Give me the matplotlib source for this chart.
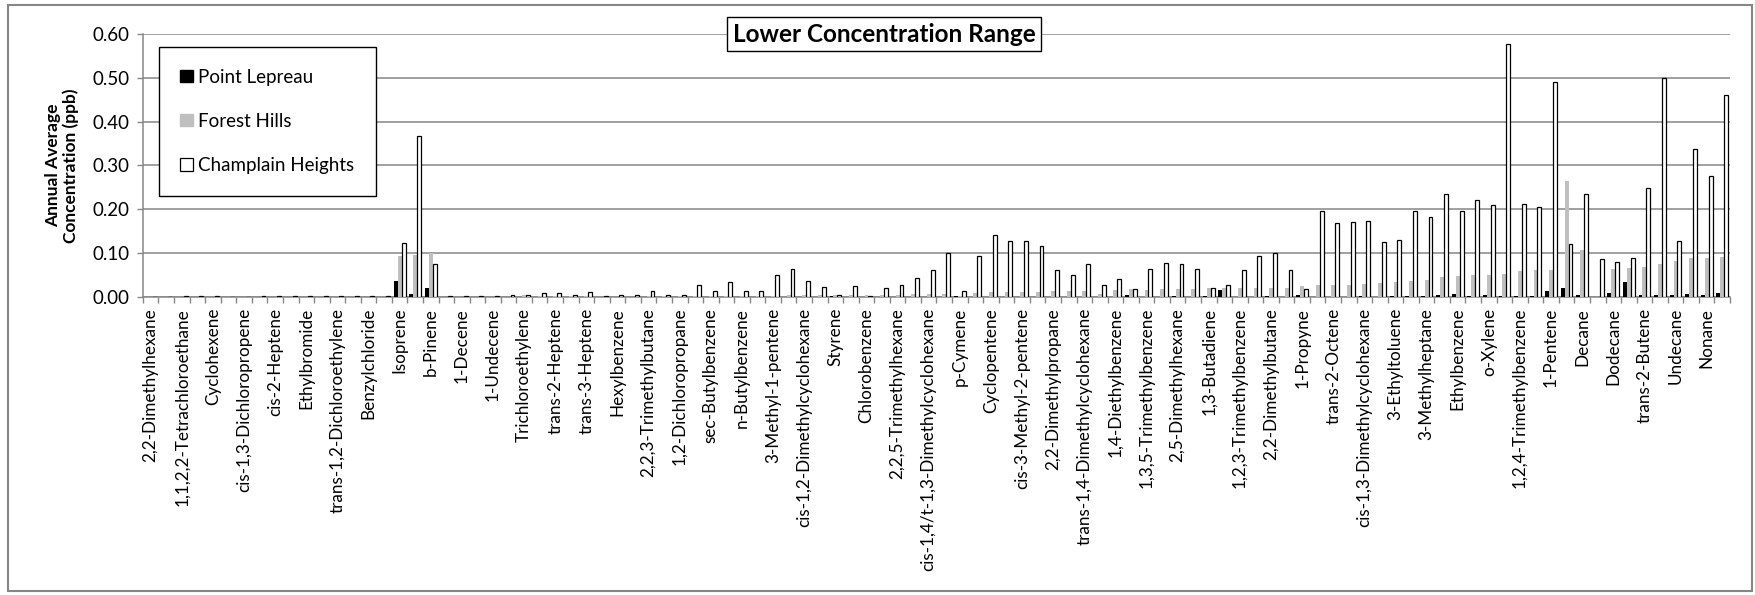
import numpy as np
import matplotlib
matplotlib.use('Agg')
import matplotlib.pyplot as plt
from matplotlib.patches import Rectangle, Patch

plt.rcParams['font.family'] = ['Lato', 'DejaVu Sans']

# every second compound is labelled on the axis
labels = ['2,2-Dimethylhexane', '1,1,2,2-Tetrachloroethane', 'Cyclohexene',
          'cis-1,3-Dichloropropene', 'cis-2-Heptene', 'Ethylbromide',
          'trans-1,2-Dichloroethylene', 'Benzylchloride', 'Isoprene', 'b-Pinene',
          '1-Decene', '1-Undecene', 'Trichloroethylene', 'trans-2-Heptene',
          'trans-3-Heptene', 'Hexylbenzene', '2,2,3-Trimethylbutane',
          '1,2-Dichloropropane', 'sec-Butylbenzene', 'n-Butylbenzene',
          '3-Methyl-1-pentene', 'cis-1,2-Dimethylcyclohexane', 'Styrene',
          'Chlorobenzene', '2,2,5-Trimethylhexane', 'cis-1,4/t-1,3-Dimethylcyclohexane',
          'p-Cymene', 'Cyclopentene', 'cis-3-Methyl-2-pentene', '2,2-Dimethylpropane',
          'trans-1,4-Dimethylcyclohexane', '1,4-Diethylbenzene', '1,3,5-Trimethylbenzene',
          '2,5-Dimethylhexane', '1,3-Butadiene', '1,2,3-Trimethylbenzene',
          '2,2-Dimethylbutane', '1-Propyne', 'trans-2-Octene',
          'cis-1,3-Dimethylcyclohexane', '3-Ethyltoluene', '3-Methylheptane',
          'Ethylbenzene', 'o-Xylene', '1,2,4-Trimethylbenzene', '1-Pentene', 'Decane',
          'Dodecane', 'trans-2-Butene', 'Undecane', 'Nonane']

point_lepreau = [0, 0, 0, 0, 0, 0, 0, 0, 0, 0,
                 0, 0, 0, 0, 0, 0, 0.037, 0.006, 0.021, 0,
                 0, 0, 0, 0, 0, 0, 0, 0, 0, 0,
                 0, 0, 0, 0, 0, 0, 0, 0, 0, 0,
                 0, 0, 0, 0, 0.001, 0, 0, 0, 0, 0,
                 0, 0, 0.002, 0, 0, 0, 0, 0, 0, 0,
                 0, 0, 0, 0.005, 0, 0, 0.001, 0, 0.001, 0.015,
                 0, 0, 0.002, 0, 0.005, 0, 0, 0, 0.001, 0,
                 0.001, 0.001, 0.001, 0.003, 0.006, 0.002, 0.005, 0.001, 0.001, 0.001,
                 0.013, 0.021, 0.003, 0, 0.008, 0.033, 0.003, 0.003, 0.004, 0.006,
                 0.004, 0.008]

forest_hills = [0, 0, 0, 0, 0, 0, 0, 0, 0, 0,
                0, 0, 0, 0, 0, 0, 0.092, 0.095, 0.100, 0,
                0, 0, 0, 0, 0.003, 0.001, 0.001, 0.001, 0.001, 0,
                0, 0, 0.001, 0.001, 0.001, 0.001, 0.001, 0.002, 0.002, 0.002,
                0.002, 0.003, 0.004, 0.004, 0.004, 0.003, 0.005, 0.004, 0.005, 0.006,
                0.007, 0.007, 0.002, 0.008, 0.010, 0.010, 0.010, 0.011, 0.013, 0.013,
                0.013, 0.006, 0.015, 0.017, 0.015, 0.017, 0.018, 0.018, 0.021, 0.019,
                0.020, 0.020, 0.020, 0.021, 0.024, 0.026, 0.027, 0.027, 0.029, 0.031,
                0.034, 0.035, 0.039, 0.045, 0.047, 0.049, 0.050, 0.053, 0.059, 0.061,
                0.062, 0.265, 0.107, 0, 0.063, 0.065, 0.069, 0.075, 0.082, 0.089,
                0.089, 0.091]

champlain_heights = [0, 0, 0.002, 0.002, 0.002, 0, 0, 0.002, 0.002, 0.002,
                     0.002, 0.002, 0.002, 0.002, 0.002, 0.002, 0.122, 0.368, 0.074, 0.002,
                     0.002, 0.002, 0.002, 0.003, 0.003, 0.008, 0.008, 0.005, 0.010, 0.002,
                     0.003, 0.003, 0.014, 0.005, 0.004, 0.026, 0.014, 0.033, 0.013, 0.013,
                     0.049, 0.064, 0.035, 0.023, 0.005, 0.024, 0.002, 0.021, 0.026, 0.042,
                     0.060, 0.099, 0.013, 0.094, 0.140, 0.127, 0.127, 0.115, 0.060, 0.050,
                     0.075, 0.026, 0.041, 0.018, 0.064, 0.077, 0.074, 0.064, 0.021, 0.026,
                     0.062, 0.092, 0.100, 0.062, 0.017, 0.197, 0.169, 0.170, 0.173, 0.125,
                     0.130, 0.197, 0.182, 0.234, 0.195, 0.221, 0.209, 0.577, 0.211, 0.205,
                     0.492, 0.121, 0.234, 0.087, 0.079, 0.088, 0.249, 0.499, 0.127, 0.337,
                     0.277, 0.462]

series = ['Point Lepreau', 'Forest Hills', 'Champlain Heights']

fig = plt.figure(figsize=(17.56, 5.95), dpi=100)
ax = fig.add_axes([0.0814, 0.5013, 0.9038, 0.4411])

x = np.arange(len(champlain_heights))
w = 0.25
grid_col = '#868686'
ax.bar(x - w, point_lepreau, w, color='black', zorder=3)
ax.bar(x, forest_hills, w, color='#bfbfbf', zorder=3)
ax.bar(x + w, champlain_heights, w, color='white', edgecolor='black',
       linewidth=0.9, zorder=3)

ax.set_xlim(-0.5, len(x) - 0.5)
ax.set_ylim(0, 0.6)
ax.set_yticks(np.arange(0, 0.61, 0.1))
ax.set_yticklabels(['%.2f' % v for v in np.arange(0, 0.61, 0.1)], fontsize=13.5)
ax.yaxis.grid(True, color=grid_col, linewidth=1.1, zorder=0)
ax.tick_params(axis='y', length=4.5, color=grid_col, width=1, pad=5)

# tick marks between categories, labels on every second category
ax.set_xticks(np.arange(len(x) + 1) - 0.5)
ax.set_xticklabels([])
ax.tick_params(axis='x', which='major', length=4.5, color=grid_col, width=1)
ax.set_xticks(x[::2], minor=True)
ax.set_xticklabels(labels, minor=True, rotation=90, fontsize=12.3, va='top', ha='center')
ax.tick_params(axis='x', which='minor', length=0, pad=8)

for s in ['top', 'right']:
    ax.spines[s].set_visible(False)
for s in ['left', 'bottom']:
    ax.spines[s].set_color(grid_col)
    ax.spines[s].set_linewidth(1.1)

ax.set_ylabel('Annual Average\nConcentration (ppb)', fontsize=12.5, fontweight='bold',
              labelpad=10, linespacing=1.05)

handles = [Patch(facecolor='black', edgecolor='black'),
           Patch(facecolor='#bfbfbf', edgecolor='#bfbfbf'),
           Patch(facecolor='white', edgecolor='black', linewidth=0.9)]
leg = fig.legend(handles, series, loc='upper left', bbox_to_anchor=(0.0905, 0.921),
                 fontsize=13.5, frameon=True, fancybox=False, framealpha=1,
                 edgecolor='black', labelspacing=1.45, handlelength=0.65,
                 handleheight=0.65, handletextpad=0.3, borderpad=1.15, borderaxespad=0)
leg.get_frame().set_linewidth(1.0)

fig.text(0.5035, 0.9424, 'Lower Concentration Range', fontsize=17.5, fontweight='bold',
         ha='center', va='center',
         bbox=dict(boxstyle='square,pad=0.22', fc='white', ec='black', lw=1.0))

fig.patches.append(Rectangle((0.0045, 0.006), 0.993, 0.986, transform=fig.transFigure,
                             fill=False, edgecolor=grid_col, linewidth=1.5))

fig.savefig('out.png', dpi=100)
